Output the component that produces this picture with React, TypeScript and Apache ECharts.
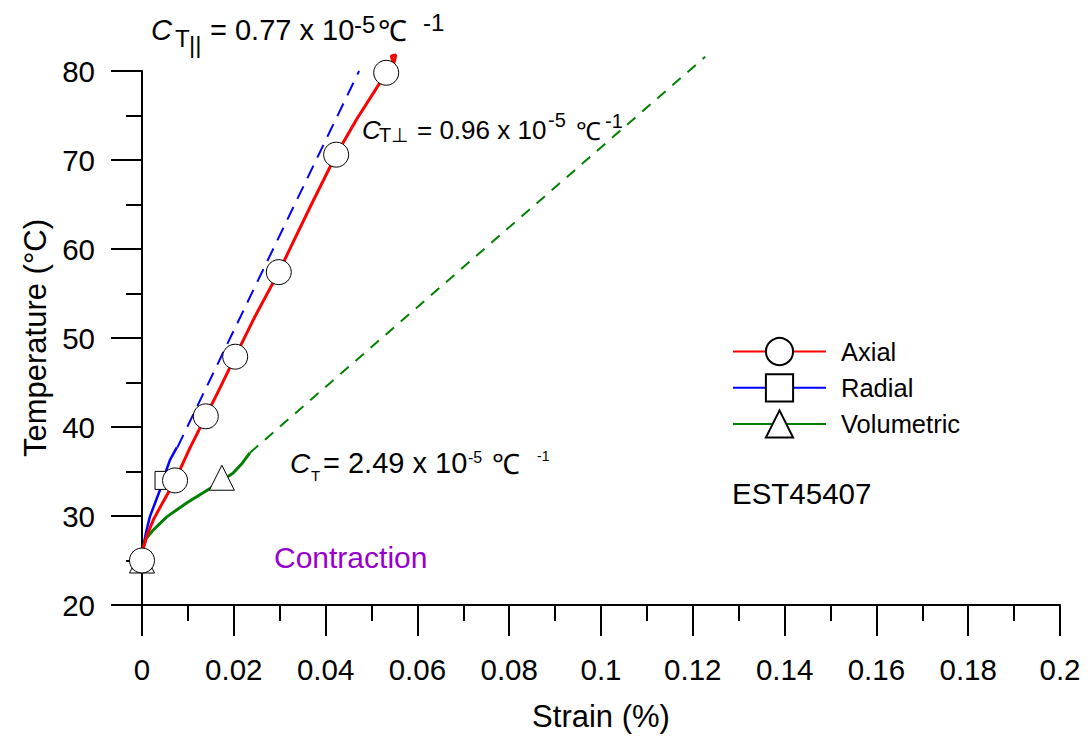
import React, { useEffect, useRef } from "react";
import * as echarts from "echarts";

const FONT = "'Liberation Sans', Arial, Helvetica, sans-serif";

// Axis settings
const xMin = 0;
const xMax = 0.2;
const xStep = 0.02;
const yMin = 20;
const yMax = 80;
const yStep = 10;

// Axial (red) measured curve and markers
const axialCurve: [number, number][] = [
  [0, 25], [0.0003, 26.4], [0.0012, 28], [0.0025, 29.6], [0.0045, 31.5],
  [0.0072, 34], [0.0104, 37.6], [0.0139, 41.2], [0.017, 44.4], [0.0203, 47.9],
  [0.0247, 52.5], [0.0298, 57.4], [0.0324, 60.2], [0.0369, 65], [0.0423, 70.6],
  [0.0468, 74.6], [0.0505, 77.6], [0.0532, 79.8], [0.0527, 78.9], [0.0538, 79.3],
  [0.0548, 80.8], [0.0543, 81.7], [0.0553, 81.8], [0.0549, 80.9], [0.0541, 79.8],
];
const axialMarkers: [number, number][] = [
  [0, 25], [0.0072, 34], [0.0139, 41.2], [0.0203, 47.9], [0.0298, 57.4], [0.0423, 70.6], [0.0532, 79.8],
];

// Radial (blue) measured curve, marker and linear fit
const radialCurve: [number, number][] = [
  [0, 25], [0.0003, 26.6], [0.0009, 28.2], [0.0017, 29.9], [0.0028, 31.4],
  [0.0039, 32.9], [0.0044, 33.8], [0.0052, 35], [0.0061, 36.3], [0.0076, 37.7],
];
const radialMarkers: [number, number][] = [[0, 25], [0.0048, 34]];
const radialFit: [number, number][] = [[0.0077, 37.7], [0.0473, 80]];

// Volumetric (green) measured curve, marker and linear fit
const volumetricCurve: [number, number][] = [
  [0, 25], [0.0002, 26.4], [0.0008, 27.4], [0.0024, 28.4], [0.0054, 29.9],
  [0.0098, 31.5], [0.0148, 33.1], [0.0198, 34.8], [0.0218, 35.9], [0.0235, 37.1],
];
const volumetricMarkers: [number, number][] = [[0, 25], [0.0174, 34.3]];
const volumetricFit: [number, number][] = [[0.0235, 37.1], [0.1227, 81.6]];

const legendNames = ["Axial", "Radial", "Volumetric"];

function txt(text: string, x: number, y: number, size: number, opts: any = {}) {
  return {
    type: "text",
    x,
    y,
    z: 100,
    style: {
      text,
      fontSize: size,
      fontFamily: FONT,
      fontStyle: opts.italic ? "italic" : "normal",
      fill: opts.color || "#000",
      align: "left",
      verticalAlign: "middle",
      textAlign: "left",
      textVerticalAlign: "middle",
    },
  };
}

export default function App() {
  const ref = useRef<HTMLDivElement>(null);
  useEffect(() => {
    document.body.style.margin = "0";
    const chart = echarts.init(ref.current!, null, { renderer: "svg" });
    const markerStyle = { color: "#fff", borderColor: "#000", borderWidth: 1, opacity: 1 };
    const axisCommon = {
      axisLine: { show: true, lineStyle: { color: "#000", width: 2 } },
      axisTick: { show: true, length: 31, lineStyle: { color: "#000", width: 2 } },
      minorTick: { show: true, splitNumber: 2, length: 16, lineStyle: { color: "#000", width: 2 } },
      splitLine: { show: false },
      minorSplitLine: { show: false },
    };
    chart.setOption({
      animation: false,
      backgroundColor: "#fff",
      grid: { left: 142, right: 29, top: 71, bottom: 137, containLabel: false },
      xAxis: {
        type: "value",
        min: xMin,
        max: xMax,
        interval: xStep,
        name: "Strain (%)",
        nameLocation: "middle",
        nameGap: 96,
        nameTextStyle: { fontSize: 31, fontFamily: FONT, color: "#000" },
        axisLabel: {
          fontSize: 29.5,
          fontFamily: FONT,
          color: "#000",
          margin: 49,
          formatter: (v: number) => String(+v.toFixed(2)),
        },
        ...axisCommon,
      },
      yAxis: {
        type: "value",
        min: yMin,
        max: yMax,
        interval: yStep,
        name: "Temperature (°C)",
        nameLocation: "middle",
        nameGap: 91,
        nameTextStyle: { fontSize: 31, fontFamily: FONT, color: "#000" },
        axisLabel: { fontSize: 29.5, fontFamily: FONT, color: "#000", margin: 47 },
        ...axisCommon,
      },
      legend: {
        data: legendNames,
        orient: "vertical",
        left: 732,
        top: 337,
        padding: 0,
        itemWidth: 93,
        itemHeight: 34,
        itemGap: 7,
        selectedMode: false,
        textStyle: { fontSize: 25.5, fontFamily: FONT, color: "#000", padding: [0, 0, 0, 10] },
      },
      series: [
        {
          name: "Axial", type: "line", data: axialCurve, showSymbol: false, symbol: "circle",
          symbolSize: 24, clip: false, z: 4,
          lineStyle: { color: "#ff0000", width: 3 }, itemStyle: markerStyle,
        },
        {
          name: "Radial", type: "line", data: radialCurve, showSymbol: false, symbol: "rect",
          symbolSize: 24, clip: false, z: 3,
          lineStyle: { color: "#0000ff", width: 2.5 }, itemStyle: markerStyle,
        },
        {
          name: "Volumetric", type: "line", data: volumetricCurve, showSymbol: false, symbol: "triangle",
          symbolSize: 24, clip: false, z: 3,
          lineStyle: { color: "#008000", width: 3 }, itemStyle: markerStyle,
        },
        {
          name: "RadialFit", type: "line", data: radialFit, showSymbol: false, clip: false, z: 3,
          lineStyle: { color: "#0000ff", width: 2, type: [14, 9] },
        },
        {
          name: "VolumetricFit", type: "line", data: volumetricFit, showSymbol: false, clip: false, z: 3,
          lineStyle: { color: "#008000", width: 2, type: [11, 9] },
        },
        {
          name: "VolumetricMarks", type: "scatter", data: volumetricMarkers, symbol: "triangle",
          symbolSize: 25, itemStyle: markerStyle, z: 5, clip: false,
        },
        {
          name: "RadialMarks", type: "scatter", data: radialMarkers, symbol: "rect",
          symbolSize: 18, itemStyle: markerStyle, z: 6, clip: false,
        },
        {
          name: "AxialMarks", type: "scatter", data: axialMarkers, symbol: "circle",
          symbolSize: 25, itemStyle: markerStyle, z: 7, clip: false,
        },
      ],
      graphic: [
        // C_T|| annotation
        txt("C", 151, 30, 29, { italic: true }),
        txt("T", 175, 38, 24),
        txt("||", 189, 44, 24),
        txt("= 0.77 x 10", 210, 30, 29),
        txt("-5", 354, 24, 24),
        txt("℃", 378, 31, 29),
        txt("-1", 423, 22, 24),
        // C_T⊥ annotation
        txt("C", 362, 130, 26, { italic: true }),
        txt("T⊥", 379, 135, 20),
        txt("= 0.96 x 10", 417, 130, 26),
        txt("-5", 548, 120, 20),
        txt("℃", 576, 131, 25),
        txt("-1", 605, 121, 20),
        // C_T annotation
        txt("C", 290, 463, 28, { italic: true }),
        txt("T", 311, 475, 15),
        txt("= 2.49 x 10", 323, 463, 29),
        txt("-5", 468, 457, 16),
        txt("℃", 492, 464, 28),
        txt("-1", 537, 456, 14),
        // labels
        txt("EST45407", 732, 493, 29.5),
        txt("Contraction", 274, 557, 30, { color: "#9900cc" }),
      ],
    });
    return () => chart.dispose();
  }, []);
  return <div ref={ref} style={{ width: 1089, height: 742 }} />;
}
